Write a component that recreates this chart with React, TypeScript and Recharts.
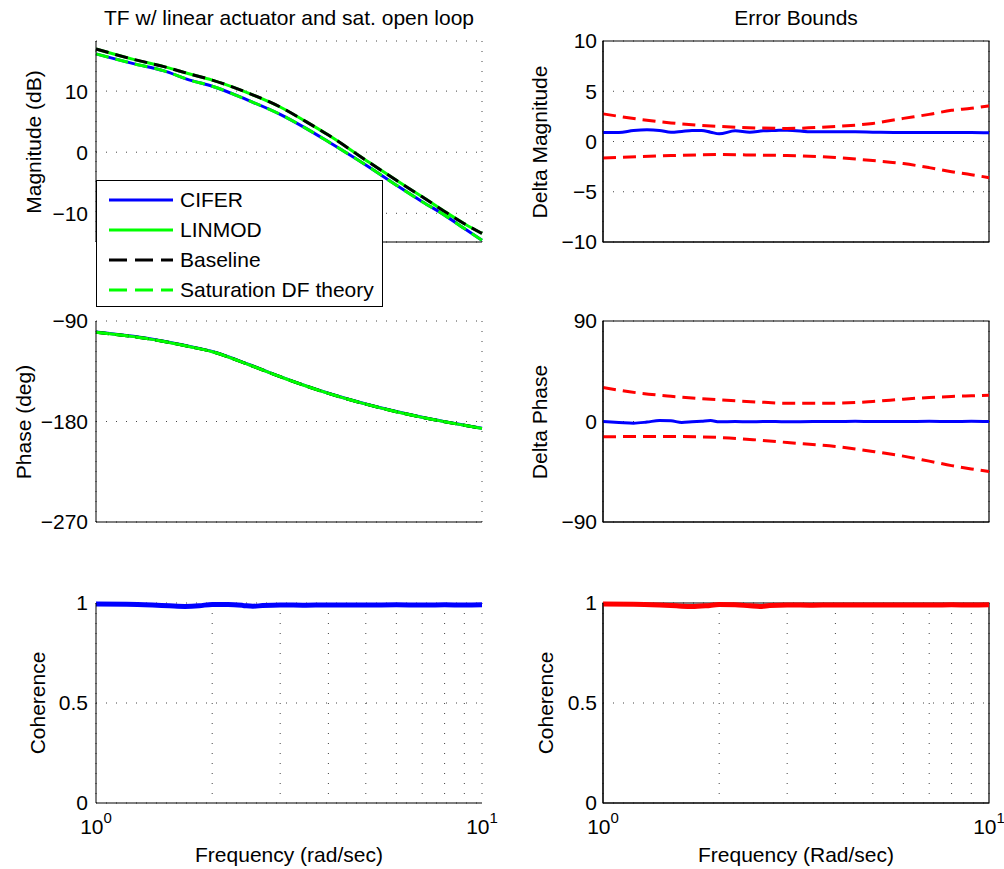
import React from "react";
import { LineChart, Line, XAxis, YAxis, CartesianGrid, ReferenceArea } from "recharts";

// frequency points (rad/sec)
const FREQ = [1, 1.25, 1.5, 1.75, 2, 2.5, 3, 3.5, 4, 5, 6, 7, 8, 9, 10];
const X_GRID = [1, 2, 3, 4, 5, 6, 7, 8, 9, 10];

// magnitude (dB)
const MAG_CIFER = [16.1, 14.5, 13.3, 11.8, 10.8, 8.4, 6.2, 3.9, 1.7, -2.1, -5.4, -8.1, -10.3, -12.5, -14.4];
const MAG_LINMOD = [16.9, 15.2, 14.0, 12.8, 11.8, 9.6, 7.4, 5.0, 2.8, -1.3, -4.6, -7.3, -9.7, -11.7, -13.3];
const MAG_BASELINE = [16.9, 15.2, 14.0, 12.8, 11.8, 9.6, 7.4, 5.0, 2.8, -1.3, -4.6, -7.3, -9.7, -11.7, -13.3];
const MAG_SATDF = [16.1, 14.5, 13.3, 11.8, 10.8, 8.4, 6.2, 3.9, 1.7, -2.1, -5.4, -8.1, -10.3, -12.5, -14.4];

// phase (deg)
const PH_CIFER = [-99.8, -103.7, -108.1, -112.8, -117.3, -129.2, -139.8, -148.1, -154.7, -164.3, -171.1, -176.2, -180.1, -183.3, -186.1];
const PH_LINMOD = [-100.1, -104, -108.3, -113, -117.5, -129.4, -139.9, -148.2, -154.8, -164.4, -171.2, -176.3, -180.2, -183.4, -186.2];
const PH_BASELINE = [-100.1, -104, -108.3, -113, -117.5, -129.4, -139.9, -148.2, -154.8, -164.4, -171.2, -176.3, -180.2, -183.4, -186.2];
const PH_SATDF = [-100.1, -104, -108.3, -113, -117.5, -129.4, -139.9, -148.2, -154.8, -164.4, -171.2, -176.3, -180.2, -183.4, -186.2];

// error bounds
const ERR_FREQ = [1, 1.1, 1.2, 1.3, 1.4, 1.5, 1.6, 1.7, 1.8, 1.9, 2, 2.2, 2.4, 2.6, 2.8, 3, 3.5, 4, 4.5, 5, 6, 7, 8, 9, 10];
const DMAG = [0.89, 0.9, 1.09, 1.16, 1.1, 0.92, 1.0, 1.09, 1.09, 0.93, 0.76, 1.06, 0.93, 1.06, 1.1, 1.13, 0.96, 0.96, 0.96, 0.93, 0.89, 0.89, 0.89, 0.89, 0.86];
const DPH = [0, -0.8, -1.5, -0.5, 0.9, 0.6, -0.9, -0.3, 0.3, 0.9, -0.3, 0, -0.3, 0, 0, -0.3, 0, 0, 0.2, 0, 0, 0.2, 0, 0.2, 0];

const BND_FREQ = [1, 1.25, 1.5, 2, 2.5, 3, 4, 5, 6, 7, 8, 9, 10];
const DMAG_UP = [2.75, 2.2, 1.85, 1.5, 1.35, 1.3, 1.5, 1.8, 2.3, 2.7, 3.1, 3.3, 3.55];
const DMAG_LO = [-1.65, -1.5, -1.4, -1.3, -1.35, -1.4, -1.6, -1.9, -2.2, -2.6, -3.0, -3.3, -3.6];
const DPH_UP = [30.4, 25.3, 22.6, 19.4, 17.5, 16.4, 16.4, 17.9, 20, 21.5, 22.4, 23, 23.5];
const DPH_LO = [-13.7, -13.4, -13.4, -14.3, -16.5, -18.8, -22.4, -26.8, -31, -35.5, -39.5, -42.5, -44.7];

// coherence
const COH_FREQ = [1, 1.2, 1.4, 1.55, 1.7, 1.85, 2, 2.2, 2.4, 2.55, 2.7, 3, 3.5, 4, 5, 6, 7, 8, 9, 10];
const COH_CIFER = [0.995, 0.994, 0.99, 0.986, 0.983, 0.986, 0.993, 0.992, 0.988, 0.984, 0.987, 0.99, 0.989, 0.99, 0.99, 0.991, 0.99, 0.991, 0.99, 0.991];
const COH_ERR = [0.995, 0.994, 0.99, 0.986, 0.982, 0.986, 0.993, 0.991, 0.986, 0.983, 0.987, 0.99, 0.989, 0.99, 0.99, 0.99, 0.99, 0.991, 0.99, 0.991];

const BLUE = "#0000ff";
const GREEN = "#00ff00";
const RED = "#ff0000";
const DASH = "13 7";
const FONT = '"Liberation Sans", Arial, Helvetica, sans-serif';

const SERIES = [
  { key: "cifer", name: "CIFER", color: BLUE, dash: undefined },
  { key: "linmod", name: "LINMOD", color: GREEN, dash: undefined },
  { key: "baseline", name: "Baseline", color: "#000", dash: "18 8" },
  { key: "satdf", name: "Saturation DF theory", color: GREEN, dash: "18 8" },
];

const magData = FREQ.map((f, i) => ({
  f, cifer: MAG_CIFER[i], linmod: MAG_LINMOD[i], baseline: MAG_BASELINE[i], satdf: MAG_SATDF[i],
}));
const phData = FREQ.map((f, i) => ({
  f, cifer: PH_CIFER[i], linmod: PH_LINMOD[i], baseline: PH_BASELINE[i], satdf: PH_SATDF[i],
}));
const dmagData = ERR_FREQ.map((f, i) => ({ f, v: DMAG[i] }));
const dphData = ERR_FREQ.map((f, i) => ({ f, v: DPH[i] }));
const magBndUp = BND_FREQ.map((f, i) => ({ f, v: DMAG_UP[i] }));
const magBndLo = BND_FREQ.map((f, i) => ({ f, v: DMAG_LO[i] }));
const phBndUp = BND_FREQ.map((f, i) => ({ f, v: DPH_UP[i] }));
const phBndLo = BND_FREQ.map((f, i) => ({ f, v: DPH_LO[i] }));
const cohData = COH_FREQ.map((f, i) => ({ f, cifer: COH_CIFER[i], err: COH_ERR[i] }));

const PLOT_W = 386;
const YW = 90;
const MT = 16;
const MR = 20;

const fmt = (v: number) => (v < 0 ? "\u2212" + Math.abs(v) : String(v));

function DecadeTick(props: any) {
  const { x, y, payload } = props;
  const v = payload.value;
  if (v !== 1 && v !== 10) return <g />;
  return (
    <text x={x} y={y + 31} textAnchor="middle" fontSize={21} fill="#000">
      10
      <tspan dy={-11} fontSize={15}>{v === 1 ? "0" : "1"}</tspan>
    </text>
  );
}

function Panel(props: {
  left: number;
  top: number;
  height: number;
  yDomain: [number, number];
  yTicks: number[];
  box?: boolean;
  bottom?: boolean;
  data?: any[];
  children: React.ReactNode;
}) {
  const { left, top, height, yDomain, yTicks, box, bottom, data, children } = props;
  const xH = bottom ? 40 : 1;
  const mb = bottom ? 0 : 14;
  return (
    <div style={{ position: "absolute", left: left - YW, top: top - MT }}>
      <LineChart
        width={YW + PLOT_W + MR}
        height={MT + height + xH + mb}
        margin={{ top: MT, right: MR, bottom: mb, left: 0 }}
        data={data}
      >
        <CartesianGrid stroke="#444" strokeDasharray="1 9" fill="none" />
        <XAxis
          dataKey="f"
          type="number"
          scale="log"
          domain={[1, 10]}
          ticks={X_GRID}
          height={xH}
          tickLine={false}
          tickSize={0}
          tickMargin={0}
          axisLine={{ stroke: "#000" }}
          tick={bottom ? <DecadeTick /> : false}
          interval={0}
        />
        <YAxis
          type="number"
          domain={yDomain}
          ticks={yTicks}
          width={YW}
          tickLine={false}
          tickMargin={box ? 0 : 2}
          axisLine={{ stroke: "#000" }}
          tick={{ fill: "#000", fontSize: 21 }}
          tickFormatter={fmt}
          interval={0}
        />
        {children}
        {box && (
          <ReferenceArea
            x1={1}
            x2={10}
            y1={yDomain[0]}
            y2={yDomain[1]}
            fill="none"
            fillOpacity={0}
            stroke="#000"
            strokeWidth={1.2}
            ifOverflow="visible"
          />
        )}
      </LineChart>
    </div>
  );
}

function seriesLines() {
  return SERIES.map((s) => (
    <Line
      key={s.key}
      type="monotone"
      dataKey={s.key}
      stroke={s.color}
      strokeWidth={3}
      strokeDasharray={s.dash ? DASH : undefined}
      dot={false}
      activeDot={false}
      isAnimationActive={false}
    />
  ));
}

function TextAt(props: { x: number; y: number; rotate?: boolean; children: React.ReactNode }) {
  return (
    <div
      style={{
        position: "absolute",
        left: props.x,
        top: props.y,
        transform: `translate(-50%, -50%)${props.rotate ? " rotate(-90deg)" : ""}`,
        whiteSpace: "nowrap",
        fontSize: 21,
        lineHeight: 1,
        color: "#000",
      }}
    >
      {props.children}
    </div>
  );
}

function LegendBox() {
  return (
    <div
      style={{
        position: "absolute",
        left: 96,
        top: 180,
        width: 285,
        height: 125,
        background: "#fff",
        border: "1px solid #000",
        fontSize: 21,
      }}
    >
      {SERIES.map((s, i) => (
        <div key={s.key} style={{ position: "absolute", left: 0, top: 3.7 + i * 30, height: 30, lineHeight: "30px", whiteSpace: "nowrap" }}>
          <svg width={64} height={30} style={{ position: "absolute", left: 12, top: 0 }}>
            <line x1={0} y1={15} x2={64} y2={15} stroke={s.color} strokeWidth={3} strokeDasharray={s.dash} />
          </svg>
          <span style={{ position: "absolute", left: 83, top: 0 }}>{s.name}</span>
        </div>
      ))}
    </div>
  );
}

export default function App() {
  const L = 96;
  const R = 603;
  return (
    <div style={{ position: "absolute", left: 0, top: 0, width: 1004, height: 869, overflow: "hidden", background: "#fff", fontFamily: FONT }}>
      {/* left column */}
      <Panel left={L} top={41} height={201} yDomain={[-14.7, 18.2]} yTicks={[-10, 0, 10]} data={magData}>
        {seriesLines()}
      </Panel>
      <Panel left={L} top={321} height={201} yDomain={[-270, -90]} yTicks={[-270, -180, -90]} data={phData}>
        {seriesLines()}
      </Panel>
      <Panel left={L} top={603} height={200} yDomain={[0, 1]} yTicks={[0, 0.5, 1]} data={cohData} bottom>
        <Line type="monotone" dataKey="cifer" stroke={BLUE} strokeWidth={5} dot={false} activeDot={false} isAnimationActive={false} />
      </Panel>

      {/* right column */}
      <Panel left={R} top={41} height={201} yDomain={[-10, 10]} yTicks={[-10, -5, 0, 5, 10]} box>
        <Line data={dmagData} type="monotone" dataKey="v" stroke={BLUE} strokeWidth={3} dot={false} activeDot={false} isAnimationActive={false} />
        <Line data={magBndUp} type="monotone" dataKey="v" stroke={RED} strokeWidth={3} strokeDasharray={DASH} dot={false} activeDot={false} isAnimationActive={false} />
        <Line data={magBndLo} type="monotone" dataKey="v" stroke={RED} strokeWidth={3} strokeDasharray={DASH} dot={false} activeDot={false} isAnimationActive={false} />
      </Panel>
      <Panel left={R} top={321} height={201} yDomain={[-90, 90]} yTicks={[-90, 0, 90]} box>
        <Line data={dphData} type="monotone" dataKey="v" stroke={BLUE} strokeWidth={3} dot={false} activeDot={false} isAnimationActive={false} />
        <Line data={phBndUp} type="monotone" dataKey="v" stroke={RED} strokeWidth={3} strokeDasharray={DASH} dot={false} activeDot={false} isAnimationActive={false} />
        <Line data={phBndLo} type="monotone" dataKey="v" stroke={RED} strokeWidth={3} strokeDasharray={DASH} dot={false} activeDot={false} isAnimationActive={false} />
      </Panel>
      <Panel left={R} top={603} height={200} yDomain={[0, 1]} yTicks={[0, 0.5, 1]} data={cohData} box bottom>
        <Line type="monotone" dataKey="err" stroke={RED} strokeWidth={5} dot={false} activeDot={false} isAnimationActive={false} />
      </Panel>

      <TextAt x={289} y={17}>TF w/ linear actuator and sat. open loop</TextAt>
      <TextAt x={796} y={17}>Error Bounds</TextAt>
      <TextAt x={32.5} y={141.5} rotate>Magnitude (dB)</TextAt>
      <TextAt x={22.5} y={421.5} rotate>Phase (deg)</TextAt>
      <TextAt x={37} y={703} rotate>Coherence</TextAt>
      <TextAt x={538.5} y={141.5} rotate>Delta Magnitude</TextAt>
      <TextAt x={538.5} y={421.5} rotate>Delta Phase</TextAt>
      <TextAt x={545} y={703} rotate>Coherence</TextAt>
      <TextAt x={289} y={854}>Frequency (rad/sec)</TextAt>
      <TextAt x={796} y={854}>Frequency (Rad/sec)</TextAt>

      <LegendBox />
    </div>
  );
}
